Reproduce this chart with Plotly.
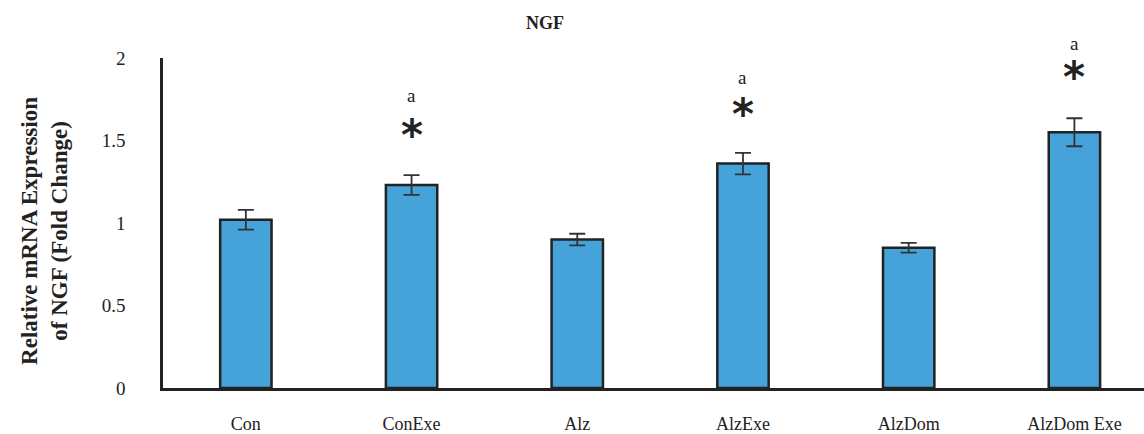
import plotly.graph_objects as go

categories = ["Con", "ConExe", "Alz", "AlzExe", "AlzDom", "AlzDom Exe"]
values = [1.02, 1.23, 0.90, 1.36, 0.85, 1.55]
errors = [0.06, 0.06, 0.035, 0.065, 0.03, 0.085]
star_groups = ["ConExe", "AlzExe", "AlzDom Exe"]
star_y = [1.53, 1.66, 1.88]
letter_y = [1.77, 1.88, 2.09]
y_title = "<b>Relative mRNA Expression<br>of NGF (Fold Change)</b>"

Y_MIN, Y_MAX = 0.0, 2.0

fig = go.Figure()
fig.add_trace(go.Bar(
    x=categories, y=values,
    width=0.31,
    marker=dict(color="#45A3D9", line=dict(color="#222222", width=2.5)),
    error_y=dict(type="data", array=errors, visible=True, color="#333333", thickness=1.8, width=8),
))

def to_paper(v):
    return (v - Y_MIN) / (Y_MAX - Y_MIN)

for g, sy, ly in zip(star_groups, star_y, letter_y):
    fig.add_annotation(x=g, y=to_paper(sy), yref="paper", text="<b>*</b>", showarrow=False,
                       font=dict(family="DejaVu Sans", size=42, color="#222222"), yanchor="middle")
    fig.add_annotation(x=g, y=to_paper(ly), yref="paper", text="a", showarrow=False,
                       font=dict(family="Liberation Serif", size=19, color="#222222"), yanchor="middle")

# y-axis title as a rotated annotation for precise placement
fig.add_annotation(x=-118/981, xref="paper", y=0.476, yref="paper", text=y_title, textangle=-90,
                   showarrow=False, xanchor="center", yanchor="middle",
                   font=dict(family="Liberation Serif", size=23, color="#222222"))

fig.update_layout(
    width=1144, height=434,
    margin=dict(l=163, r=0, t=58, b=46),
    plot_bgcolor="white", paper_bgcolor="white",
    showlegend=False,
    title=dict(text="<b>NGF</b>", x=545/1144, xanchor="center", y=1-23/434, yanchor="middle",
               font=dict(family="Liberation Serif", size=18, color="#222222")),
    font=dict(family="Liberation Serif", color="#222222"),
    xaxis=dict(range=[-0.5, 5.42], showline=True, linecolor="#222222", linewidth=2.5,
               ticks="", tickfont=dict(size=18, family="Liberation Serif"), ticklabelstandoff=18,
               showgrid=False, zeroline=False, automargin=False),
    yaxis=dict(range=[Y_MIN, Y_MAX], showline=True, linecolor="#222222", linewidth=2.5,
               tickvals=[0, 0.5, 1, 1.5, 2], ticktext=["0", "0.5", "1", "1.5", "2"],
               ticks="", tickfont=dict(size=19, family="Liberation Serif"), ticklabelstandoff=31,
               showgrid=False, zeroline=False, automargin=False),
)

fig.write_html("out.html", config={"displayModeBar": False})

with open("out.html", "r", encoding="utf-8") as f:
    html = f.read()
html = html.replace("<head>", "<head><style>html,body{margin:0;padding:0;overflow:hidden;}</style>", 1)
with open("out.html", "w", encoding="utf-8") as f:
    f.write(html)
